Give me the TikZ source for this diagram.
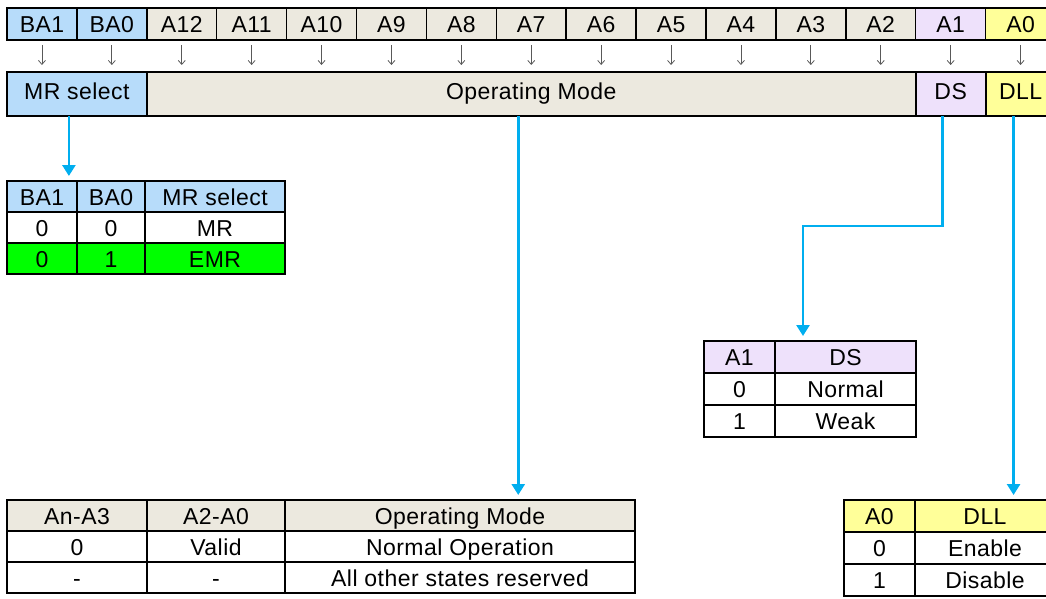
\documentclass[tikz,border=0pt]{standalone}
\usepackage{fontspec}
\setmainfont{Liberation Sans}[LetterSpace=2]
\usepackage{xcolor}
\usepackage{tikz}
\usetikzlibrary{arrows.meta}
\definecolor{mrblue}{HTML}{B7DCFA}
\definecolor{opbeige}{HTML}{ECE9DF}
\definecolor{dslilac}{HTML}{EEE1FB}
\definecolor{dllyellow}{HTML}{FFFF99}
\definecolor{emrgreen}{HTML}{00FF00}
\definecolor{linkcyan}{HTML}{00AEEF}
\tikzset{ cell/.style = {rectangle, draw, line width=1.5pt, inner sep=0pt, outer sep=0pt, minimum height=32pt, text height=17pt, text depth=0pt, font=\fontsize{23}{25}\selectfont} }
\tikzset{ bit_cell/.style = {cell, minimum width=69.9pt, text height=18pt} }
\tikzset{ field_cell/.style = {cell, line width=2pt, minimum height=44pt, text height=14pt, text depth=3pt} }
\tikzset{ bit_arrow/.style = {-{Straight Barb[length=4pt,width=7pt]}, black!65, line width=0.8pt, shorten <=5pt, shorten >=7pt} }
\tikzset{ link/.style = {-{Triangle[length=11pt,width=13pt]}, linkcyan, line width=2.6pt, shorten >=5pt} }

\begin{document}
\begin{tikzpicture}[x=1pt,y=-1pt]
\useasboundingbox (0,0) rectangle (1046,599);
% address bits
\node[bit_cell, fill=mrblue] (ba1) at (41.95,24) {BA1};
\node[bit_cell, fill=mrblue] (ba0) at (111.85,24) {BA0};
\node[bit_cell, fill=opbeige] (a12) at (181.75,24) {A12};
\node[bit_cell, fill=opbeige] (a11) at (251.65,24) {A11};
\node[bit_cell, fill=opbeige] (a10) at (321.55,24) {A10};
\node[bit_cell, fill=opbeige] (a9) at (391.45,24) {A9};
\node[bit_cell, fill=opbeige] (a8) at (461.35,24) {A8};
\node[bit_cell, fill=opbeige] (a7) at (531.25,24) {A7};
\node[bit_cell, fill=opbeige] (a6) at (601.15,24) {A6};
\node[bit_cell, fill=opbeige] (a5) at (671.05,24) {A5};
\node[bit_cell, fill=opbeige] (a4) at (740.95,24) {A4};
\node[bit_cell, fill=opbeige] (a3) at (810.85,24) {A3};
\node[bit_cell, fill=opbeige] (a2) at (880.75,24) {A2};
\node[bit_cell, fill=dslilac] (a1) at (950.65,24) {A1};
\node[bit_cell, fill=dllyellow] (a0) at (1020.55,24) {A0};
% fields
\node[field_cell, fill=mrblue, minimum width=139.8pt] (mrsel) at (76.9,94) {MR select};
\node[field_cell, fill=opbeige, minimum width=768.9pt] (opmode) at (531.25,94) {Operating Mode};
\node[field_cell, fill=dslilac, minimum width=69.9pt] (ds) at (950.65,94) {DS};
\node[field_cell, fill=dllyellow, minimum width=69.9pt] (dll) at (1020.55,94) {DLL};
\draw[bit_arrow] (ba1.south) -- (ba1.south |- mrsel.north);
\draw[bit_arrow] (ba0.south) -- (ba0.south |- mrsel.north);
\draw[bit_arrow] (a12.south) -- (a12.south |- opmode.north);
\draw[bit_arrow] (a11.south) -- (a11.south |- opmode.north);
\draw[bit_arrow] (a10.south) -- (a10.south |- opmode.north);
\draw[bit_arrow] (a9.south) -- (a9.south |- opmode.north);
\draw[bit_arrow] (a8.south) -- (a8.south |- opmode.north);
\draw[bit_arrow] (a7.south) -- (a7.south |- opmode.north);
\draw[bit_arrow] (a6.south) -- (a6.south |- opmode.north);
\draw[bit_arrow] (a5.south) -- (a5.south |- opmode.north);
\draw[bit_arrow] (a4.south) -- (a4.south |- opmode.north);
\draw[bit_arrow] (a3.south) -- (a3.south |- opmode.north);
\draw[bit_arrow] (a2.south) -- (a2.south |- opmode.north);
\draw[bit_arrow] (a1.south) -- (a1.south |- ds.north);
\draw[bit_arrow] (a0.south) -- (a0.south |- dll.north);
% MR select table
\node[cell, fill=mrblue, minimum width=70pt, minimum height=31pt] (mr_h1) at (42,196.5) {BA1};
\node[cell, fill=mrblue, minimum width=68pt, minimum height=31pt] (mr_h2) at (111,196.5) {BA0};
\node[cell, fill=mrblue, minimum width=140pt, minimum height=31pt] (mr_h3) at (215,196.5) {MR select};
\node[cell, minimum width=70pt, minimum height=31pt] (mr_a1) at (42,227.5) {0};
\node[cell, minimum width=68pt, minimum height=31pt] (mr_a2) at (111,227.5) {0};
\node[cell, minimum width=140pt, minimum height=31pt] (mr_a3) at (215,227.5) {MR};
\node[cell, fill=emrgreen, minimum width=70pt, minimum height=31pt] (mr_b1) at (42,258.5) {0};
\node[cell, fill=emrgreen, minimum width=68pt, minimum height=31pt] (mr_b2) at (111,258.5) {1};
\node[cell, fill=emrgreen, minimum width=140pt, minimum height=31pt] (mr_b3) at (215,258.5) {EMR};
% DS table
\node[cell, fill=dslilac, minimum width=71pt] (ds_h1) at (739.5,357) {A1};
\node[cell, fill=dslilac, minimum width=141pt] (ds_h2) at (845.5,357) {DS};
\node[cell, minimum width=71pt] (ds_a1) at (739.5,389) {0};
\node[cell, minimum width=141pt] (ds_a2) at (845.5,389) {Normal};
\node[cell, minimum width=71pt] (ds_b1) at (739.5,421) {1};
\node[cell, minimum width=141pt] (ds_b2) at (845.5,421) {Weak};
% operating mode table
\node[cell, fill=opbeige, minimum width=140pt, minimum height=31pt] (op_h1) at (77,515.5) {An-A3};
\node[cell, fill=opbeige, minimum width=138pt, minimum height=31pt] (op_h2) at (216,515.5) {A2-A0};
\node[cell, fill=opbeige, minimum width=350pt, minimum height=31pt] (op_h3) at (460,515.5) {Operating Mode};
\node[cell, minimum width=140pt, minimum height=31pt] (op_a1) at (77,546.5) {0};
\node[cell, minimum width=138pt, minimum height=31pt] (op_a2) at (216,546.5) {Valid};
\node[cell, minimum width=350pt, minimum height=31pt] (op_a3) at (460,546.5) {Normal Operation};
\node[cell, minimum width=140pt, minimum height=31pt] (op_b1) at (77,577.5) {-};
\node[cell, minimum width=138pt, minimum height=31pt] (op_b2) at (216,577.5) {-};
\node[cell, minimum width=350pt, minimum height=31pt] (op_b3) at (460,577.5) {All other states reserved};
% DLL table
\node[cell, fill=dllyellow, minimum width=71pt] (dll_h1) at (879.5,516) {A0};
\node[cell, fill=dllyellow, minimum width=140pt] (dll_h2) at (985,516) {DLL};
\node[cell, minimum width=71pt] (dll_a1) at (879.5,548) {0};
\node[cell, minimum width=140pt] (dll_a2) at (985,548) {Enable};
\node[cell, minimum width=71pt] (dll_b1) at (879.5,580) {1};
\node[cell, minimum width=140pt] (dll_b2) at (985,580) {Disable};
% links
\coordinate (ds_bend) at (803,226);
\draw[link] ([xshift=-8pt]mrsel.south) -- ([xshift=-8pt]mrsel.south |- mr_h1.north);
\draw[link] ([xshift=-13pt]opmode.south) -- ([xshift=-13pt]opmode.south |- op_h3.north);
\draw[link] ([xshift=-8pt]ds.south) |- (ds_bend) -- (ds_bend |- ds_h2.north);
\draw[link] ([xshift=-7pt]dll.south) -- ([xshift=-7pt]dll.south |- dll_h2.north);
\end{tikzpicture}
\end{document}
